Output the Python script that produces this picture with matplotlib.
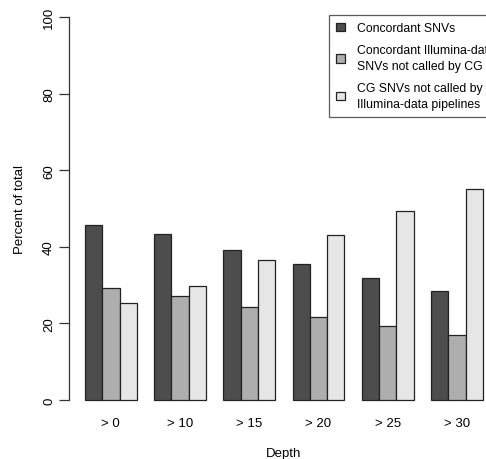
import matplotlib
matplotlib.use("Agg")
import matplotlib.pyplot as plt
import numpy as np

plt.rcParams["font.family"] = ["Liberation Sans", "DejaVu Sans"]

depths = ["> 0", "> 10", "> 15", "> 20", "> 25", "> 30"]
concordant = [45.7, 43.3, 39.2, 35.5, 31.8, 28.4]
illumina_only = [29.2, 27.2, 24.4, 21.7, 19.2, 16.9]
cg_only = [25.2, 29.8, 36.5, 43.2, 49.3, 55.1]

series_labels = [
    "Concordant SNVs",
    "Concordant Illumina-data\nSNVs not called by CG",
    "CG SNVs not called by\nIllumina-data pipelines",
]
colors = ["#4D4D4D", "#AEAEAE", "#E6E6E6"]
yticks = [0, 20, 40, 60, 80, 100]

W, H = 486, 460
fig = plt.figure(figsize=(W / 100, H / 100), dpi=100)

# R barplot layout: 3 unit bars per group, 1 unit gap, 4% xlim padding
unit_px = 17.3
x_lo, x_hi = 0.08, 24.92
ax_left = 69
ax_w = (x_hi - x_lo) * unit_px
y_bot_px, y_top_px = 416.3, 2.7
ax = fig.add_axes([ax_left / W, 1 - y_bot_px / H, ax_w / W, (y_bot_px - y_top_px) / H])

group_start = np.arange(len(depths)) * 4 + 1
for i, (vals, c, lab) in enumerate(zip([concordant, illumina_only, cg_only], colors, series_labels)):
    ax.bar(group_start + i, vals, width=1.0, align="edge", color=c,
           edgecolor="#222222", linewidth=0.9, label=lab)

ax.set_xlim(x_lo, x_hi)
ax.set_ylim(-4, 104)

for s in ["top", "right", "bottom"]:
    ax.spines[s].set_visible(False)
ax.spines["left"].set_bounds(0, 100)
ax.spines["left"].set_color("#333333")
ax.spines["left"].set_linewidth(0.9)

ax.set_yticks(yticks)
ax.set_yticklabels([str(v) for v in yticks], rotation=90, va="center", fontsize=9.5)
ax.tick_params(axis="y", length=7, width=0.9, color="#333333", pad=3)

ax.set_xticks(group_start + 1.5)
ax.set_xticklabels(depths, fontsize=9.5)
ax.tick_params(axis="x", length=0, pad=1)

ax.set_xlabel("Depth", fontsize=9.5, labelpad=13)
ax.set_ylabel("Percent of total", fontsize=9.5, labelpad=12.4)

# legend runs off the right edge, as in the reference
leg = ax.legend(loc="upper left", bbox_to_anchor=(329 / W, 1 - 16 / H),
                bbox_transform=fig.transFigure, frameon=True, fancybox=False,
                fontsize=8.8, handlelength=0.7, handleheight=0.7,
                handletextpad=1.0, labelspacing=0.8, borderpad=0.6,
                borderaxespad=0)
for t in leg.get_texts():
    t.set_linespacing(1.45)
leg.get_frame().set_edgecolor("#333333")
leg.get_frame().set_linewidth(0.9)

fig.savefig("out.png", dpi=100)
